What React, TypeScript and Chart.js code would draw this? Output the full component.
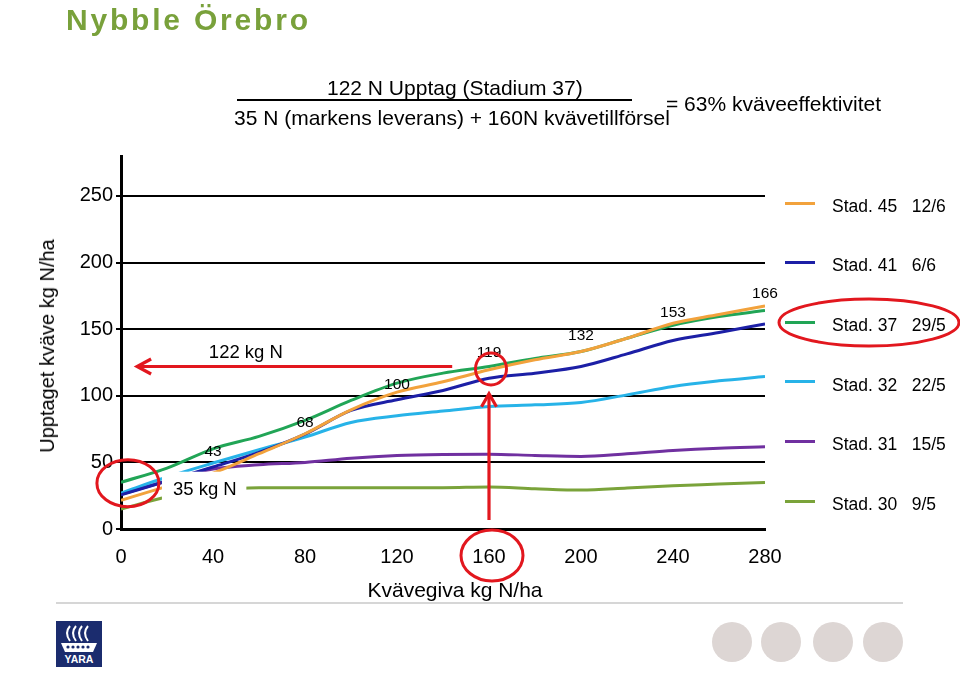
import React, { useEffect, useRef } from "react";
import { Chart, registerables } from "chart.js";

Chart.register(...registerables);

// ---------- data ----------
const nRates = [0, 20, 40, 60, 80, 100, 120, 140, 160, 180, 200, 220, 240, 260, 280];
const stad45 = [21.5, 32, 42, 56.5, 71.5, 89.5, 102.7, 110.5, 119.5, 127, 133.2, 143.2, 154.5, 161, 167.5];
const stad41 = [25.7, 36, 46.5, 57.5, 71.2, 89, 97, 104, 113.2, 117, 122, 131.5, 141.5, 147.5, 154];
const stad37 = [35, 45.7, 60.2, 69.5, 81.5, 96.5, 109.5, 117, 122, 128, 133.2, 143.2, 153, 159.5, 164];
const stad32 = [27, 39, 49.5, 59.5, 69, 80, 85, 88.5, 92, 93.2, 95, 100.7, 107, 111.2, 114.5];
const stad31 = [26, 36, 45, 48.2, 50, 53.2, 55.2, 56, 56.2, 55.2, 54.5, 56.5, 59, 60.7, 61.7];
const stad30 = [15, 24, 29, 31, 31, 31, 31, 31, 31.5, 30.2, 29.2, 30.7, 32.5, 33.7, 35];

const stageNames = ["Stad. 45", "Stad. 41", "Stad. 37", "Stad. 32", "Stad. 31", "Stad. 30"];
const stageDates = ["12/6", "6/6", "29/5", "22/5", "15/5", "9/5"];
const uptakeLabelRates = [40, 80, 120, 160, 200, 240, 280];
const uptakeLabels = [43, 68, 100, 119, 132, 153, 166];
const xTicks = [0, 40, 80, 120, 160, 200, 240, 280];
const yTicks = [0, 50, 100, 150, 200, 250];

const seriesValues = [stad45, stad41, stad37, stad32, stad31, stad30];
const seriesColors = ["#f2a23c", "#1c1fa6", "#21a556", "#27b3e8", "#7030a0", "#7aa33a"];

const FONT = '"Liberation Sans", Arial, Helvetica, sans-serif';
const RED = "#e2171e";

function chevron(ctx: CanvasRenderingContext2D, x1: number, y1: number, x2: number, y2: number, len: number, half: number) {
  const a = Math.atan2(y2 - y1, x2 - x1);
  const c = Math.cos(a), s = Math.sin(a);
  ctx.beginPath();
  ctx.moveTo(x1, y1);
  ctx.lineTo(x2 - c * 1.5, y2 - s * 1.5);
  ctx.stroke();
  const bx = x2 - c * len, by = y2 - s * len;
  ctx.beginPath();
  ctx.moveTo(bx - s * half, by + c * half);
  ctx.lineTo(x2, y2);
  ctx.lineTo(bx + s * half, by - c * half);
  ctx.stroke();
}

const overlayPlugin = {
  id: "overlayPlugin",
  afterDatasetsDraw(chart: any) {
    const { ctx } = chart;
    const x = chart.scales.x, y = chart.scales.y;
    ctx.save();
    // white label box that hides the lines at low N
    const bx1 = x.getPixelForValue(17.8), bx2 = x.getPixelForValue(54.5);
    const by1 = y.getPixelForValue(43), by2 = y.getPixelForValue(18);
    ctx.fillStyle = "#ffffff";
    ctx.fillRect(bx1, by1, bx2 - bx1, by2 - by1);
    ctx.fillStyle = "#000";
    ctx.font = `18.5px ${FONT}`;
    ctx.textAlign = "left";
    ctx.textBaseline = "middle";
    ctx.fillText("35 kg N", bx1 + 11, y.getPixelForValue(29.5));

    // uptake labels
    const anchorY = [58, 80, 108, 132.5, 145, 162.5, 176.5];
    ctx.font = `15.5px ${FONT}`;
    ctx.textAlign = "center";
    uptakeLabels.forEach((v, i) => {
      ctx.fillText(String(v), x.getPixelForValue(uptakeLabelRates[i]), y.getPixelForValue(anchorY[i]));
    });
    ctx.restore();
  },
  afterDraw(chart: any) {
    const { ctx, chartArea } = chart;
    const x = chart.scales.x, y = chart.scales.y;
    ctx.save();
    ctx.strokeStyle = RED;
    ctx.lineWidth = 3.2;
    ctx.lineJoin = "miter";
    // horizontal arrow at 122 kg N uptake
    const ay = y.getPixelForValue(122);
    chevron(ctx, x.getPixelForValue(144), ay, x.getPixelForValue(7), ay, 14, 7.5);
    ctx.fillStyle = "#000";
    ctx.font = `18.5px ${FONT}`;
    ctx.textAlign = "center";
    ctx.textBaseline = "middle";
    ctx.fillText("122 kg N", x.getPixelForValue(54.3), ay - 13.5);

    // vertical arrow at 160 kg N/ha
    const vx = x.getPixelForValue(160);
    chevron(ctx, vx, chartArea.bottom - 9, vx, y.getPixelForValue(101.5), 13, 7.5);

    ctx.lineWidth = 3;
    // circle around point
    ctx.beginPath();
    ctx.ellipse(vx + 2, y.getPixelForValue(120.2), 15.5, 16, 0, 0, Math.PI * 2);
    ctx.stroke();
    // circle around 160 tick label
    ctx.beginPath();
    ctx.ellipse(vx + 3, chartArea.bottom + 26.5, 31, 25.5, 0, 0, Math.PI * 2);
    ctx.stroke();
    // ellipse at origin
    ctx.beginPath();
    ctx.ellipse(x.getPixelForValue(3), y.getPixelForValue(34.4), 31, 23.5, 0, 0, Math.PI * 2);
    ctx.stroke();
    ctx.restore();
  },
};

function T(props: {
  x: number; y: number; size: number; children: any; anchor?: "start" | "middle";
  weight?: string | number; color?: string; ls?: number;
}) {
  const { x, y, size, children, anchor = "start", weight = "normal", color = "#000", ls = 0 } = props;
  return (
    <div
      style={{
        position: "absolute",
        left: x,
        top: y - size / 2,
        fontFamily: FONT,
        fontSize: size,
        lineHeight: `${size}px`,
        fontWeight: weight as any,
        color,
        letterSpacing: ls,
        whiteSpace: "pre",
        transform: anchor === "middle" ? "translateX(-50%)" : undefined,
      }}
    >
      {children}
    </div>
  );
}

export default function App() {
  const canvasRef = useRef<HTMLCanvasElement | null>(null);

  useEffect(() => {
    if (!canvasRef.current) return;
    Chart.defaults.font.family = FONT;
    const datasets = seriesValues.map((vals, i) => ({
      label: `${stageNames[i]} ${stageDates[i]}`,
      data: nRates.map((r, j) => ({ x: r, y: vals[j] })),
      borderColor: seriesColors[i],
      backgroundColor: seriesColors[i],
      borderWidth: 3,
      pointRadius: 0,
      cubicInterpolationMode: "monotone" as const,
      fill: false,
    }));
    const chart = new Chart(canvasRef.current, {
      type: "line",
      data: { datasets },
      options: {
        animation: false,
        responsive: false,
        maintainAspectRatio: false,
        layout: { padding: { left: 0, top: 156, right: 195, bottom: 0 } },
        plugins: { legend: { display: false }, tooltip: { enabled: false } },
        scales: {
          x: {
            type: "linear",
            min: 0,
            max: 280,
            afterBuildTicks: (s: any) => {
              s.ticks = xTicks.map((v) => ({ value: v }));
            },
            afterFit: (s: any) => {
              s.height = 154;
            },
            grid: { display: false, drawTicks: false },
            border: { display: true, color: "#000", width: 3 },
            ticks: { color: "#000", font: { size: 20, family: FONT }, padding: 16, maxRotation: 0 },
          },
          y: {
            type: "linear",
            min: 0,
            max: 280,
            afterBuildTicks: (s: any) => {
              s.ticks = yTicks.map((v) => ({ value: v }));
            },
            afterFit: (s: any) => {
              s.width = 121;
            },
            grid: { color: "#000", lineWidth: 2, drawTicks: true, tickLength: 5 },
            border: { display: true, color: "#000", width: 3 },
            ticks: { color: "#000", font: { size: 20, family: FONT }, padding: 3 },
          },
        },
      },
      plugins: [overlayPlugin],
    });
    return () => chart.destroy();
  }, []);

  const legendTop = 203;
  const legendStep = 59.6;

  return (
    <div style={{ position: "absolute", left: 0, top: 0, width: 960, height: 683, background: "#fff", overflow: "hidden" }}>
      <canvas ref={canvasRef} width={960} height={683} style={{ position: "absolute", left: 0, top: 0, width: 960, height: 683 }} />

      <T x={66} y={20} size={30} weight="bold" color="#79a13b" ls={2.8}>Nybble Örebro</T>

      <T x={327} y={87} size={21}>122 N Upptag (Stadium 37)</T>
      <div style={{ position: "absolute", left: 237, top: 98.5, width: 395, height: 2, background: "#000" }} />
      <T x={234} y={117} size={21}>35 N (markens leverans) + 160N kvävetillförsel</T>
      <T x={666} y={103} size={21}>= 63% kväveeffektivitet</T>

      <div
        style={{
          position: "absolute",
          left: 47,
          top: 346,
          fontFamily: FONT,
          fontSize: 20,
          lineHeight: "20px",
          whiteSpace: "nowrap",
          transform: "translate(-50%, -50%) rotate(-90deg)",
        }}
      >
        Upptaget kväve kg N/ha
      </div>
      <T x={455} y={589} size={21} anchor="middle">Kvävegiva kg N/ha</T>

      {stageNames.map((name, i) => (
        <React.Fragment key={name}>
          <div
            style={{
              position: "absolute",
              left: 785,
              top: legendTop + i * legendStep - 1.5,
              width: 30,
              height: 3,
              background: seriesColors[i],
            }}
          />
          <T x={832} y={legendTop + i * legendStep + 3.5} size={17.5}>{`${name}   ${stageDates[i]}`}</T>
        </React.Fragment>
      ))}

      <svg width={960} height={683} style={{ position: "absolute", left: 0, top: 0, pointerEvents: "none" }}>
        <ellipse cx={869} cy={322.5} rx={90} ry={23.5} fill="none" stroke={RED} strokeWidth={3} />
        <line x1={56} y1={603} x2={903} y2={603} stroke="#c8c8c8" strokeWidth={1.5} />
        <rect x={56} y={621} width={46} height={46} fill="#1b2c6e" />
        <path d="M70 641 Q64 633 70 626" stroke="#fff" strokeWidth={2} fill="none" />
        <path d="M76 641 Q70 633 76 626" stroke="#fff" strokeWidth={2} fill="none" />
        <path d="M82 641 Q76 633 82 626" stroke="#fff" strokeWidth={2} fill="none" />
        <path d="M88 641 Q82 633 88 626" stroke="#fff" strokeWidth={2} fill="none" />
        <path d="M61 643 L97 643 L93 652 L65 652 Z" fill="#fff" />
        {[68, 73, 78, 83, 88].map((cx) => (
          <circle key={cx} cx={cx} cy={647} r={1.6} fill="#1b2c6e" />
        ))}
        <text x={79} y={663} fill="#fff" fontSize={10.5} fontWeight="bold" textAnchor="middle" fontFamily={FONT}>
          YARA
        </text>
        {[732, 781, 833, 883].map((cx) => (
          <circle key={cx} cx={cx} cy={642} r={20} fill="#ddd6d4" />
        ))}
      </svg>
    </div>
  );
}
